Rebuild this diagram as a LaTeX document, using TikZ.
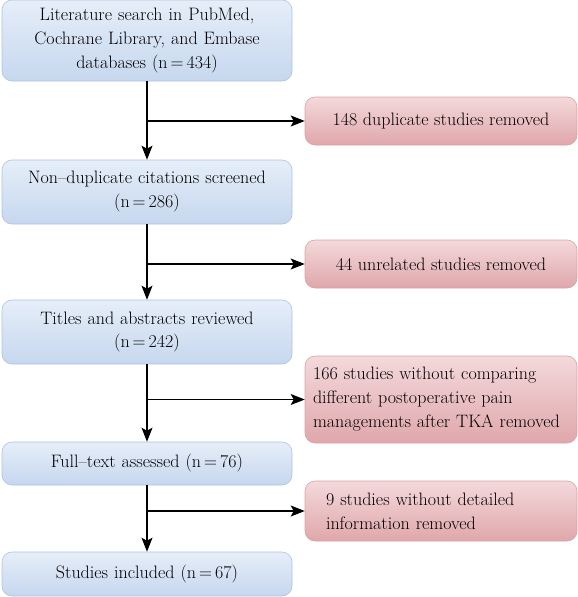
\documentclass[tikz,border=0pt]{standalone}
\usepackage{fontspec}
\usetikzlibrary{arrows.meta}
\definecolor{stagetop}{HTML}{E6EEF9}
\definecolor{stagebot}{HTML}{C6D7EE}
\definecolor{stageline}{HTML}{ADC3E2}
\definecolor{droptop}{HTML}{F4D9DB}
\definecolor{dropbot}{HTML}{DFA7AB}
\definecolor{dropline}{HTML}{D9A3A6}
\tikzset{
  stagebox/.style={draw=stageline, line width=.6pt, rounded corners=10pt, top color=stagetop, bottom color=stagebot, minimum width=290pt, text width=280pt, align=center, inner sep=0pt, font=\fontsize{18}{24}\selectfont},
  dropbox/.style={draw=dropline, line width=.6pt, rounded corners=10pt, top color=droptop, bottom color=dropbot, minimum width=272pt, inner sep=0pt, font=\fontsize{18}{24}\selectfont},
  flow/.style={line width=1.3pt, -{Stealth[length=14pt,width=11pt,inset=3pt]}}
}
\begin{document}
\begin{tikzpicture}[x=1pt,y=-1pt]
\useasboundingbox (0,0) rectangle (578,597);
\node[stagebox, minimum height=81pt] (search) at (147,40.5) {Literature search in PubMed,\\Cochrane Library, and Embase\\databases (n\,=\,434)};
\node[stagebox, minimum height=64pt] (screened) at (147,192) {Non--duplicate citations screened\\(n\,=\,286)};
\node[stagebox, minimum height=64pt] (reviewed) at (147,332) {Titles and abstracts reviewed\\(n\,=\,242)};
\node[stagebox, minimum height=43pt] (assessed) at (147,463.5) {Full--text assessed (n\,=\,76)};
\node[stagebox, minimum height=44pt] (included) at (147,574) {Studies included (n\,=\,67)};
\node[dropbox, minimum height=48pt] (dup) at (441,121) {148 duplicate studies removed};
\node[dropbox, minimum height=48pt] (unrel) at (441,264) {44 unrelated studies removed};
\node[dropbox, minimum height=87pt, text width=256pt, align=left] (nocomp) at (441,399.5) {166 studies without comparing\\different postoperative pain\\managements after TKA removed};
\node[dropbox, minimum height=60pt, text width=230pt, align=left] (nodetail) at (441,511) {9 studies without detailed\\information removed};
\draw[flow] (search) -- (screened);
\draw[flow] (screened) -- (reviewed);
\draw[flow] (reviewed) -- (assessed);
\draw[flow] (assessed) -- (included);
\draw[flow] (search.south |- dup.west) -- (dup.west);
\draw[flow] (screened.south |- unrel.west) -- (unrel.west);
\draw[flow] (reviewed.south |- nocomp.west) -- (nocomp.west);
\draw[flow] (assessed.south |- nodetail.west) -- (nodetail.west);
\end{tikzpicture}
\end{document}
